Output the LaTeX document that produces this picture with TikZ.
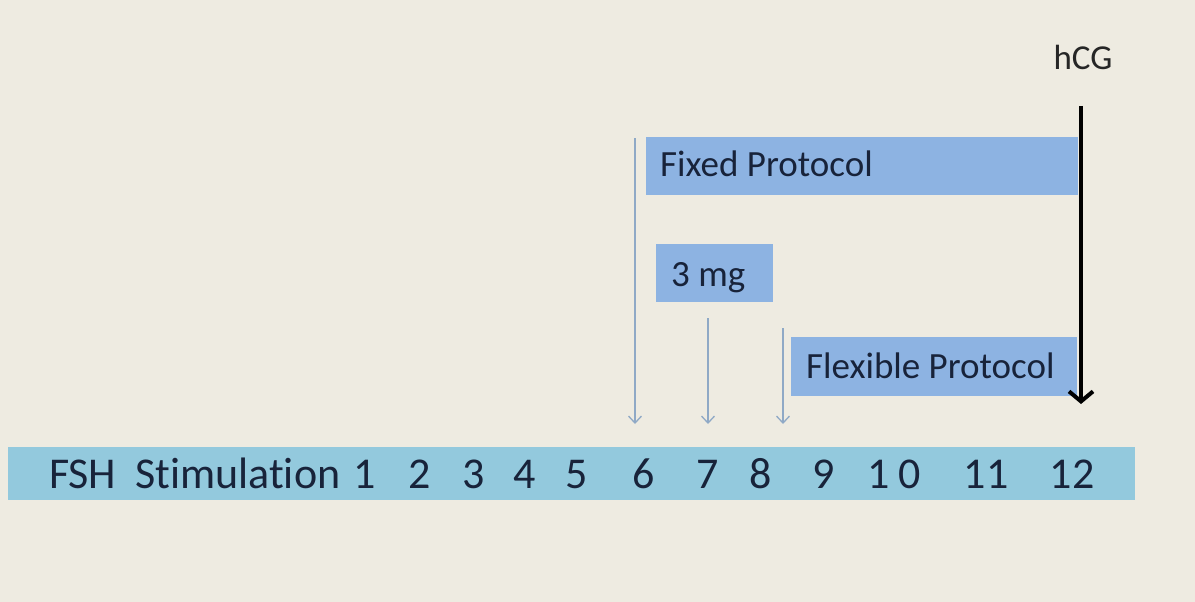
\documentclass[tikz,border=0pt]{standalone}
\usepackage{fontspec}
\setmainfont{Carlito}[Ligatures=NoCommon]
\usetikzlibrary{arrows.meta}
\definecolor{bgc}{HTML}{EEEBE1}
\definecolor{barc}{HTML}{93C9DD}
\definecolor{boxc}{HTML}{8DB3E2}
\definecolor{txtc}{HTML}{18233A}
\definecolor{thinc}{HTML}{8FA9C6}
\tikzset{
  bluebox/.style={fill=boxc, draw=none, inner sep=0pt, anchor=north west},
  lbl/.style={inner sep=0pt, anchor=base west, text=txtc, font=\fontsize{37}{44}\selectfont},
  daytxt/.style={inner sep=0pt, anchor=base, text=txtc, font=\fontsize{44}{52}\selectfont},
  thinarrow/.style={draw=thinc, line width=1.3pt, -{Straight Barb[length=7pt, width=13pt, line width=1.3pt]}},
  hcgarrow/.style={draw=black, line width=4pt, -{Straight Barb[length=10pt, width=24pt, line width=4pt]}}
}
\begin{document}
\begin{tikzpicture}[x=1pt, y=-1pt]
\fill[bgc] (0,0) rectangle (1195,602);
\useasboundingbox (0,0) rectangle (1195,602);
% FSH bar
\node[fill=barc, draw=none, inner sep=0pt, anchor=north west, minimum width=1127pt, minimum height=53pt] (bar) at (8,447) {};
\node[daytxt, anchor=base west] (fsh) at (49,488) {FSH};
\node[daytxt, anchor=base west] (stim) at (135,488) {Stimulation};
\node[daytxt] (d1) at (365,488) {1};
\node[daytxt] (d2) at (420,488) {2};
\node[daytxt] (d3) at (474,488) {3};
\node[daytxt] (d4) at (525,488) {4};
\node[daytxt] (d5) at (577,488) {5};
\node[daytxt] (d6) at (644,488) {6};
\node[daytxt] (d7) at (708,488) {7};
\node[daytxt] (d8) at (761,488) {8};
\node[daytxt] (d9) at (824,488) {9};
\node[daytxt] (d10a) at (879,488) {1};
\node[daytxt] (d10b) at (910,488) {0};
\node[daytxt] (d11) at (986,488) {11};
\node[daytxt] (d12) at (1072,488) {12};
% boxes
\node[bluebox, minimum width=432pt, minimum height=58pt] (fixed) at (646,137) {};
\node[lbl] (fixedlbl) at (660,176) {Fixed Protocol};
\node[bluebox, minimum width=117pt, minimum height=58pt] (mg) at (656,244) {};
\node[lbl] (mglbl) at (671,286) {3 mg};
\node[bluebox, minimum width=286pt, minimum height=59pt] (flex) at (791,337) {};
\node[lbl] (flexlbl) at (806,378) {Flexible Protocol};
% hCG
\node[inner sep=0pt, anchor=base, text=black!85, font=\fontsize{35}{40}\selectfont] (hcg) at (1083,70) {hCG};
% arrows
\coordinate (a6s) at (635,138);
\coordinate (a6e) at (635,424);
\coordinate (a7s) at (708,318);
\coordinate (a7e) at (708,424);
\coordinate (a8s) at (783,328);
\coordinate (a8e) at (783,424);
\coordinate (hs) at (1081,106);
\coordinate (he) at (1081,404);
\draw[thinarrow] (a6s) -- (a6e);
\draw[thinarrow] (a7s) -- (a7e);
\draw[thinarrow] (a8s) -- (a8e);
\draw[hcgarrow] (hs) -- (he);
\end{tikzpicture}
\end{document}
